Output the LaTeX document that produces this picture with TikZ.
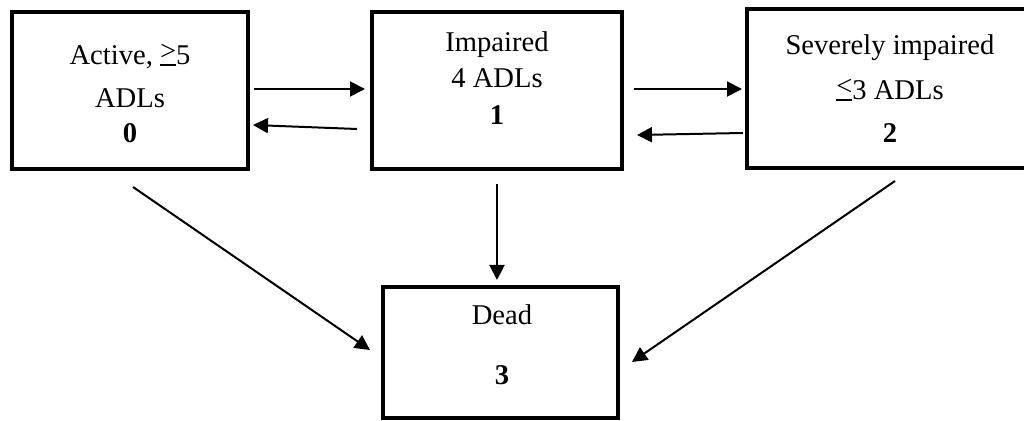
\documentclass[tikz,border=0pt]{standalone}
\usepackage{fontspec}
\setmainfont{Liberation Serif}
\usetikzlibrary{arrows.meta}
\newcommand{\geqbar}{\ooalign{\raisebox{0.14em}{>}\cr\rule[-0.02em]{0.564em}{0.055em}\cr}}
\newcommand{\leqbar}{\ooalign{\raisebox{0.14em}{<}\cr\rule[-0.02em]{0.564em}{0.055em}\cr}}
\begin{document}
\begin{tikzpicture}[x=0.5pt,y=-0.5pt,
  box/.style={draw,line width=2pt,inner sep=0pt,minimum width=#1},
  txt/.style={anchor=base,inner sep=0pt,font=\fontsize{14.3pt}{17pt}\selectfont},
  arr/.style={line width=1pt,-{Triangle[length=7.5pt,width=7.5pt]}}]
\clip (0,0) rectangle (1024,421);
\fill[white] (0,0) rectangle (1024,421);
% boxes
\node[box=118pt,minimum height=78.5pt] (b0) at (130,90.5) {};
\node[box=125pt,minimum height=78.5pt] (b1) at (497,90.5) {};
\node[box=143pt,minimum height=79.5pt] (b2) at (890,88.5) {};
\node[box=117.5pt,minimum height=65.5pt] (b3) at (500.5,352.5) {};
% texts
\node[txt] (t0a) at (130,65) {Active, \geqbar5};
\node[txt] (t0b) at (130,108) {ADLs};
\node[txt] (t0c) at (130,143) {\textbf{0}};
\node[txt] (t1a) at (497,52) {Impaired};
\node[txt] (t1b) at (497,88) {4 ADLs};
\node[txt] (t1c) at (497,125) {\textbf{1}};
\node[txt] (t2a) at (890,55) {Severely impaired};
\node[txt] (t2b) at (890,100) {\leqbar3 ADLs};
\node[txt] (t2c) at (890,143) {\textbf{2}};
\node[txt] (t3a) at (502,325) {Dead};
\node[txt] (t3b) at (502,385) {\textbf{3}};
% connectors
\draw[arr] ([shift={(4,-1.5)}]b0.east) -- ([shift={(-5,-1.5)}]b1.west);
\draw[arr] ([shift={(-13,38.5)}]b1.west) -- ([shift={(3,34.5)}]b0.east);
\draw[arr] ([shift={(10,-1.5)}]b1.east) -- ([shift={(-3,0.5)}]b2.west);
\draw[arr] ([shift={(-2,44.5)}]b2.west) -- ([shift={(13,44.5)}]b1.east);
\draw[arr] ([shift={(0,13)}]b1.south) -- ([shift={(-3.5,-5)}]b3.north);
\draw[arr] ([shift={(3,16)}]b0.south) -- ([shift={(-11,-2.5)}]b3.west);
\draw[arr] ([shift={(5,11)}]b2.south) -- ([shift={(12,9.5)}]b3.east);
\end{tikzpicture}
\end{document}
